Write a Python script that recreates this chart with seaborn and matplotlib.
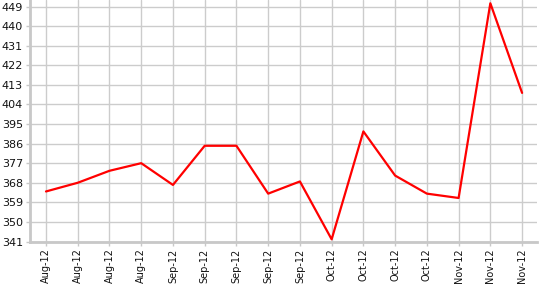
import matplotlib
matplotlib.use("Agg")
import matplotlib.pyplot as plt
import seaborn as sns
import pandas as pd
import numpy as np

labels = ["Aug-12", "Aug-12", "Aug-12", "Aug-12", "Sep-12", "Sep-12", "Sep-12", "Sep-12",
          "Sep-12", "Oct-12", "Oct-12", "Oct-12", "Oct-12", "Nov-12", "Nov-12", "Nov-12"]
values = [364, 368, 373.5, 377, 367, 385, 385, 363, 368.6, 342, 391.6, 371.3, 363, 361, 450.5, 409.3]
yticks = [341, 350, 359, 368, 377, 386, 395, 404, 413, 422, 431, 440, 449]

sns.set_theme(style="white")
plt.rcParams['font.family'] = ['DejaVu Sans']

df = pd.DataFrame({"idx": np.arange(len(values)), "value": values})

fig = plt.figure(figsize=(5.41, 2.85), dpi=100)
ax = fig.add_axes([30/541, 43.5/285, 507/541, 241.5/285])
sns.lineplot(data=df, x="idx", y="value", ax=ax, color="#ff0000", linewidth=1.6)

ax.set_xlim(-0.504, 15.47)
ax.set_ylim(341, 452)
ax.set_yticks(yticks)
ax.set_yticklabels([str(t) for t in yticks], fontsize=8, color="#111111")
ax.set_xticks(df["idx"])
ax.set_xticklabels(labels, rotation=90, fontsize=7, color="#111111")
ax.set_xlabel("")
ax.set_ylabel("")
ax.grid(True, color="#cccccc", linewidth=1.0)
ax.set_axisbelow(True)
for s in ["top", "right"]:
    ax.spines[s].set_visible(False)
for s in ["left", "bottom"]:
    ax.spines[s].set_color("#c8c8c8")
    ax.spines[s].set_linewidth(2)
ax.tick_params(axis="both", which="major", length=3, width=1, color="#c8c8c8", pad=2,
               left=True, bottom=True)
fig.savefig("out.png", dpi=100)
